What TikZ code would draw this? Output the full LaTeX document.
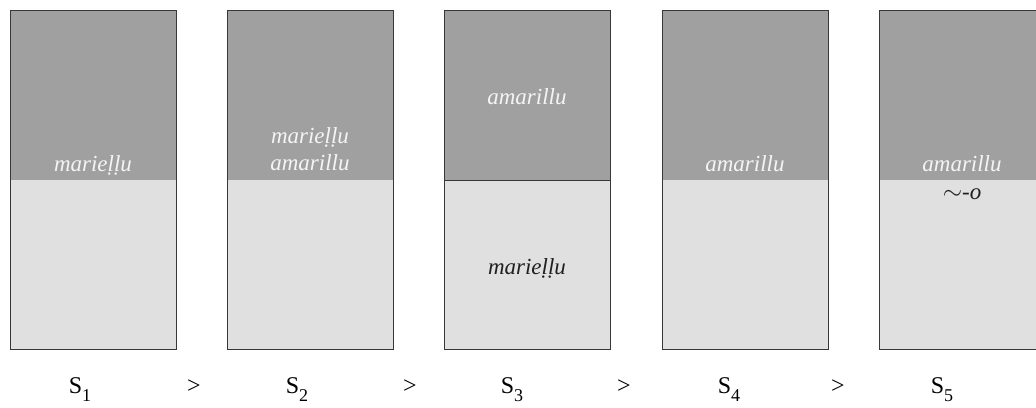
\documentclass[tikz,border=0pt]{standalone}
\usepackage{fontspec}
\setmainfont{Liberation Serif}
\definecolor{dark}{HTML}{A0A0A0}
\definecolor{light}{HTML}{E0E0E0}
\definecolor{edge}{HTML}{383838}
\definecolor{wtext}{HTML}{F4F4F4}
\definecolor{btext}{HTML}{202020}
\tikzset{
  darkpart/.style={fill=dark, draw=none},
  lightpart/.style={fill=light, draw=none},
  frame/.style={draw=edge, line width=1pt},
  wlab/.style={text=wtext, font=\fontsize{23}{27}\selectfont\itshape, inner sep=0pt, align=center, anchor=base},
  blab/.style={text=btext, font=\fontsize{23}{27}\selectfont\itshape, inner sep=0pt, align=center, anchor=base},
  slab/.style={text=black, font=\fontsize{24}{26}\selectfont, inner sep=0pt, anchor=base},
}
\newcommand{\Slab}[1]{S\raisebox{-0.36em}{\fontsize{18}{18}\selectfont #1}}
\begin{document}
\begin{tikzpicture}[x=1pt, y=-1pt]
\useasboundingbox (0,0) rectangle (1036,407);
\clip (0,0) rectangle (1036,407);
\foreach \i/\x in {1/10, 2/227, 3/444, 4/662, 5/879} {
  \fill[darkpart] (\x,10) rectangle (\x+166,180);
  \fill[lightpart] (\x,180) rectangle (\x+166,349);
  \draw[frame] (\x,10) rectangle (\x+166,349);
}
\draw[frame] (444,180) -- (610,180);
% panel texts
\node[wlab] (p1) at (93,171) {marieḷḷu};
\node[wlab] (p2a) at (310,143) {marieḷḷu};
\node[wlab] (p2b) at (310,170) {amarillu};
\node[wlab] (p3a) at (527,104) {amarillu};
\node[blab] (p3b) at (527,274) {marieḷḷu};
\node[wlab] (p4) at (745,171) {amarillu};
\node[wlab] (p5) at (962,171) {amarillu};
\node[blab] (p5b) at (962,199) {$\sim$-o};
% bottom labels
\node[slab] (s1) at (80,393) {\Slab{1}};
\node[slab] (g1) at (194,393) {>};
\node[slab] (s2) at (297,393) {\Slab{2}};
\node[slab] (g2) at (410,393) {>};
\node[slab] (s3) at (512,393) {\Slab{3}};
\node[slab] (g3) at (624,393) {>};
\node[slab] (s4) at (729,393) {\Slab{4}};
\node[slab] (g4) at (838,393) {>};
\node[slab] (s5) at (942,393) {\Slab{5}};
\end{tikzpicture}
\end{document}
